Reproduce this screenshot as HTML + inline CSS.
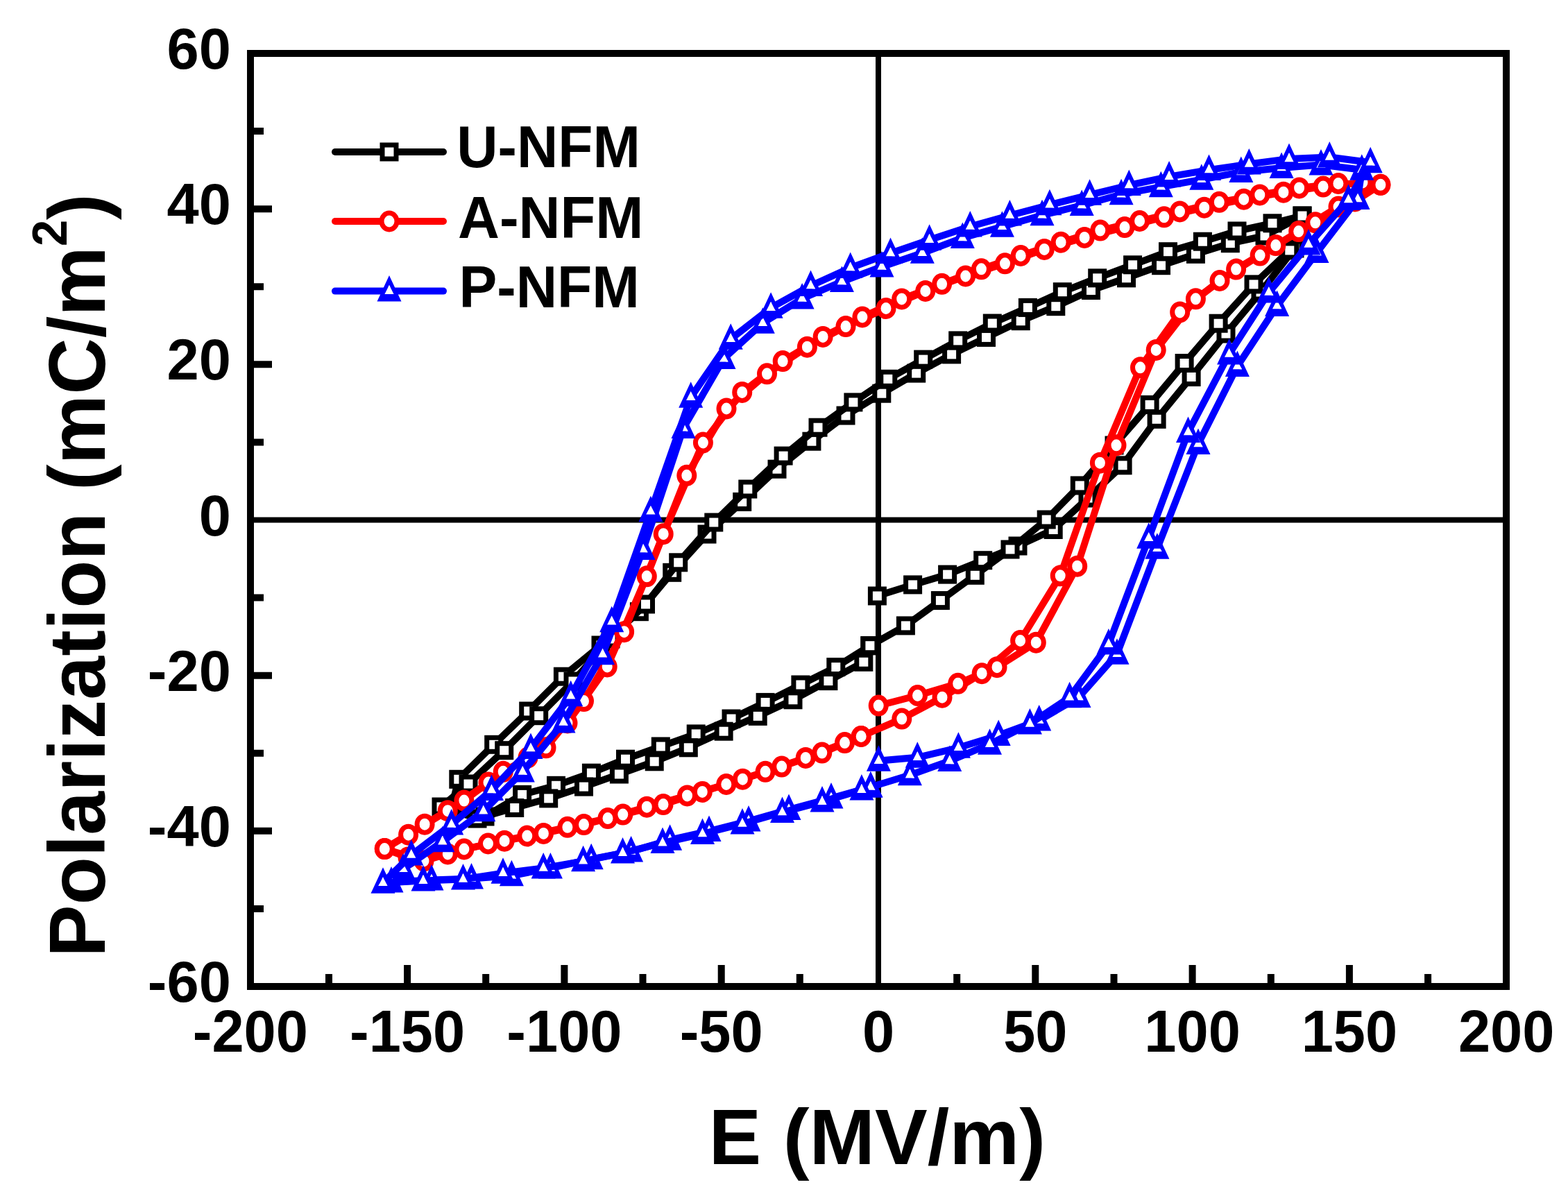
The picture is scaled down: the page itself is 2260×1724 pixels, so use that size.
<!DOCTYPE html>
<html><head><meta charset="utf-8"><title>P-E loops</title><style>
html,body{margin:0;padding:0;background:#fff;overflow:hidden;}
svg{display:block;}
text{font-family:"Liberation Sans",Arial,sans-serif;font-weight:bold;fill:#000;}
</style></head><body>
<svg xmlns="http://www.w3.org/2000/svg" width="2260" height="1724" viewBox="0 0 2260 1724">
<rect width="2260" height="1724" fill="#fff"/>
<defs>
<g id="msq"><rect x="-10" y="-10" width="20" height="20" fill="#fff" stroke="#000" stroke-width="7"/></g>
<g id="mci"><ellipse cx="0" cy="0" rx="11" ry="12" fill="#fff" stroke="#f00" stroke-width="7"/></g>
<g id="mtr"><path d="M0 -22.5 L17.5 15 L-17.5 15 Z M0 -8.6 L-6.6 4.3 L6.6 4.3 Z" fill="#00f" fill-rule="evenodd"/><path d="M0 -8.6 L6.6 4.3 L-6.6 4.3 Z" fill="#fff"/></g>
</defs>
<g stroke="#000" fill="none">
<line x1="361" y1="749.5" x2="2171" y2="749.5" stroke-width="8"/>
<line x1="1266" y1="77" x2="1266" y2="1422" stroke-width="8"/>
</g>
<path d="M1264.4 859 L1315.6 842.9 L1365.6 828.1 L1416.7 807.7 L1467 787 L1518.2 763.5 L1568 718 L1618.1 670.8 L1667.1 604.3 L1717.1 543.4 L1767 481 L1817 421 L1866 358 L1877 311 L1823 340 L1773.3 350.7 L1723.4 366.3 L1673.5 382.7 L1623.5 400.8 L1572.5 418.5 L1521.8 441.7 L1471.2 462.7 L1421.5 486.4 L1371.6 510.9 L1320.7 538.1 L1270.8 567.2 L1219 599 L1169.9 636.2 L1120 676.2 L1069.7 723.4 L1019 770 L968.7 825.3 L921.4 881.7 L866 930 L811.4 975.2 L761.7 1025 L711.7 1073.3 L660.8 1123.3 L650 1168 L699 1177 L752.6 1145.4 L801.5 1132.3 L852.4 1114.2 L901.5 1094.2 L952.3 1076 L1003.2 1057.9 L1054 1036 L1103.1 1012.4 L1153.9 987 L1204.8 961.6 L1253.9 930.7" fill="none" stroke="#000" stroke-width="10" stroke-linejoin="round" stroke-linecap="round"/>
<g><use href="#msq" x="1264.4" y="859"/><use href="#msq" x="1315.6" y="842.9"/><use href="#msq" x="1365.6" y="828.1"/><use href="#msq" x="1416.7" y="807.7"/><use href="#msq" x="1467" y="787"/><use href="#msq" x="1518.2" y="763.5"/><use href="#msq" x="1568" y="718"/><use href="#msq" x="1618.1" y="670.8"/><use href="#msq" x="1667.1" y="604.3"/><use href="#msq" x="1717.1" y="543.4"/><use href="#msq" x="1767" y="481"/><use href="#msq" x="1817" y="421"/><use href="#msq" x="1866" y="358"/><use href="#msq" x="1877" y="311"/><use href="#msq" x="1823" y="340"/><use href="#msq" x="1773.3" y="350.7"/><use href="#msq" x="1723.4" y="366.3"/><use href="#msq" x="1673.5" y="382.7"/><use href="#msq" x="1623.5" y="400.8"/><use href="#msq" x="1572.5" y="418.5"/><use href="#msq" x="1521.8" y="441.7"/><use href="#msq" x="1471.2" y="462.7"/><use href="#msq" x="1421.5" y="486.4"/><use href="#msq" x="1371.6" y="510.9"/><use href="#msq" x="1320.7" y="538.1"/><use href="#msq" x="1270.8" y="567.2"/><use href="#msq" x="1219" y="599"/><use href="#msq" x="1169.9" y="636.2"/><use href="#msq" x="1120" y="676.2"/><use href="#msq" x="1069.7" y="723.4"/><use href="#msq" x="1019" y="770"/><use href="#msq" x="968.7" y="825.3"/><use href="#msq" x="921.4" y="881.7"/><use href="#msq" x="866" y="930"/><use href="#msq" x="811.4" y="975.2"/><use href="#msq" x="761.7" y="1025"/><use href="#msq" x="711.7" y="1073.3"/><use href="#msq" x="660.8" y="1123.3"/><use href="#msq" x="650" y="1168"/><use href="#msq" x="699" y="1177"/><use href="#msq" x="752.6" y="1145.4"/><use href="#msq" x="801.5" y="1132.3"/><use href="#msq" x="852.4" y="1114.2"/><use href="#msq" x="901.5" y="1094.2"/><use href="#msq" x="952.3" y="1076"/><use href="#msq" x="1003.2" y="1057.9"/><use href="#msq" x="1054" y="1036"/><use href="#msq" x="1103.1" y="1012.4"/><use href="#msq" x="1153.9" y="987"/><use href="#msq" x="1204.8" y="961.6"/><use href="#msq" x="1253.9" y="930.7"/></g>
<path d="M1253.9 930.7 L1305.4 901.9 L1355.4 865.6 L1405.3 829.3 L1456 792 L1508.2 749 L1556.3 699.9 L1606 642 L1657.1 583.4 L1707.1 523.5 L1756.1 466.2 L1807 409.9 L1858.8 360.9 L1877 311 L1834 321.8 L1783 333 L1733.4 348.2 L1683.5 362.7 L1632.6 381.8 L1581.7 400.8 L1531.3 420.7 L1481.4 443.4 L1430.3 466 L1380.7 490.9 L1330.7 518.1 L1279.8 546.3 L1229.9 579.9 L1179 616.2 L1129.1 657.1 L1077.8 705 L1028.8 753 L977.7 810.8 L930.5 871 L880 921 L826 982 L776.7 1031.7 L726.7 1081.7 L675 1130 L636 1163 L688 1180 L741.7 1164.5 L790.7 1150.9 L841.5 1134.1 L892.4 1116 L943.2 1097.8 L992.3 1077.8 L1043.1 1054.2 L1092.2 1032.4 L1143 1008.8 L1193.9 981.6 L1244.8 954.3" fill="none" stroke="#000" stroke-width="10" stroke-linejoin="round" stroke-linecap="round"/>
<g><use href="#msq" x="1253.9" y="930.7"/><use href="#msq" x="1305.4" y="901.9"/><use href="#msq" x="1355.4" y="865.6"/><use href="#msq" x="1405.3" y="829.3"/><use href="#msq" x="1456" y="792"/><use href="#msq" x="1508.2" y="749"/><use href="#msq" x="1556.3" y="699.9"/><use href="#msq" x="1606" y="642"/><use href="#msq" x="1657.1" y="583.4"/><use href="#msq" x="1707.1" y="523.5"/><use href="#msq" x="1756.1" y="466.2"/><use href="#msq" x="1807" y="409.9"/><use href="#msq" x="1858.8" y="360.9"/><use href="#msq" x="1877" y="311"/><use href="#msq" x="1834" y="321.8"/><use href="#msq" x="1783" y="333"/><use href="#msq" x="1733.4" y="348.2"/><use href="#msq" x="1683.5" y="362.7"/><use href="#msq" x="1632.6" y="381.8"/><use href="#msq" x="1581.7" y="400.8"/><use href="#msq" x="1531.3" y="420.7"/><use href="#msq" x="1481.4" y="443.4"/><use href="#msq" x="1430.3" y="466"/><use href="#msq" x="1380.7" y="490.9"/><use href="#msq" x="1330.7" y="518.1"/><use href="#msq" x="1279.8" y="546.3"/><use href="#msq" x="1229.9" y="579.9"/><use href="#msq" x="1179" y="616.2"/><use href="#msq" x="1129.1" y="657.1"/><use href="#msq" x="1077.8" y="705"/><use href="#msq" x="1028.8" y="753"/><use href="#msq" x="977.7" y="810.8"/><use href="#msq" x="930.5" y="871"/><use href="#msq" x="880" y="921"/><use href="#msq" x="826" y="982"/><use href="#msq" x="776.7" y="1031.7"/><use href="#msq" x="726.7" y="1081.7"/><use href="#msq" x="675" y="1130"/><use href="#msq" x="636" y="1163"/><use href="#msq" x="688" y="1180"/><use href="#msq" x="741.7" y="1164.5"/><use href="#msq" x="790.7" y="1150.9"/><use href="#msq" x="841.5" y="1134.1"/><use href="#msq" x="892.4" y="1116"/><use href="#msq" x="943.2" y="1097.8"/><use href="#msq" x="992.3" y="1077.8"/><use href="#msq" x="1043.1" y="1054.2"/><use href="#msq" x="1092.2" y="1032.4"/><use href="#msq" x="1143" y="1008.8"/><use href="#msq" x="1193.9" y="981.6"/><use href="#msq" x="1244.8" y="954.3"/></g>
<path d="M1266.2 1017.1 L1322.5 1002.5 L1380.7 985.3 L1437 961.7 L1493.3 926.2 L1552.7 816.2 L1609 641.8 L1666.2 504.4 L1723.4 430.8 L1781.6 388.1 L1838.8 353.6 L1895.8 320.8 L1953 290 L1989.9 266.3 L1964 263 L1907.1 269.1 L1849.9 277.2 L1792.7 287.2 L1735.7 299.2 L1677.8 312.8 L1621 327.6 L1563.1 342.4 L1505.2 359.4 L1448.5 379.8 L1391.7 398 L1333.8 419.5 L1277 444.5 L1219 470.6 L1163.4 500.2 L1105.5 538.8 L1047 589 L989.8 685.3 L932.3 830.8 L875.2 961 L818 1042 L761 1092 L704 1128 L645.3 1168.7 L588.6 1203.2 L554.3 1223.6 L611 1241 L668.9 1224 L727.1 1212.2 L783.4 1201.4 L841.5 1188.6 L897.8 1174.1 L956 1159.6 L1012.3 1141.4 L1070.4 1123.2 L1126.7 1105.1 L1184.8 1085.1 L1241.2 1061.5" fill="none" stroke="#f00" stroke-width="10" stroke-linejoin="round" stroke-linecap="round"/>
<path d="M1241.2 1061.5 L1299.8 1036.1 L1358 1005.2 L1415.2 970.7 L1470.6 923.5 L1528.2 829.8 L1585.4 667.2 L1643.5 529.8 L1700.7 449.9 L1758 404.5 L1816.1 368.1 L1871.7 333.6 L1929 298 L1989.9 266.3 L1928.9 264.5 L1872.6 270.9 L1815.8 280.9 L1757.3 291.3 L1700.5 304.9 L1642.6 318.5 L1585.8 332.1 L1529.1 349.2 L1471.2 368.5 L1414.4 387.8 L1357.6 409.3 L1299.7 430.9 L1242.9 457 L1186.1 485.4 L1128.2 520.6 L1069.7 565.4 L1013.4 638 L956.2 769.7 L899.6 910.7 L841.5 1010.6 L787 1077.8 L725.2 1112.3 L668.9 1154.1 L612.1 1188.2 L554.3 1223.6 L588 1236 L645.3 1231 L703.5 1216 L759.8 1205 L817.9 1192.3 L876 1179.6 L932.3 1163.2 L990.5 1146.9 L1046.8 1130.5 L1103.1 1112.3 L1161.2 1092.4 L1217.5 1070.6" fill="none" stroke="#f00" stroke-width="10" stroke-linejoin="round" stroke-linecap="round"/>
<g><use href="#mci" x="1266.2" y="1017.1"/><use href="#mci" x="1322.5" y="1002.5"/><use href="#mci" x="1380.7" y="985.3"/><use href="#mci" x="1437" y="961.7"/><use href="#mci" x="1493.3" y="926.2"/><use href="#mci" x="1552.7" y="816.2"/><use href="#mci" x="1609" y="641.8"/><use href="#mci" x="1666.2" y="504.4"/><use href="#mci" x="1723.4" y="430.8"/><use href="#mci" x="1781.6" y="388.1"/><use href="#mci" x="1838.8" y="353.6"/><use href="#mci" x="1895.8" y="320.8"/><use href="#mci" x="1953" y="290"/><use href="#mci" x="1989.9" y="266.3"/><use href="#mci" x="1964" y="263"/><use href="#mci" x="1907.1" y="269.1"/><use href="#mci" x="1849.9" y="277.2"/><use href="#mci" x="1792.7" y="287.2"/><use href="#mci" x="1735.7" y="299.2"/><use href="#mci" x="1677.8" y="312.8"/><use href="#mci" x="1621" y="327.6"/><use href="#mci" x="1563.1" y="342.4"/><use href="#mci" x="1505.2" y="359.4"/><use href="#mci" x="1448.5" y="379.8"/><use href="#mci" x="1391.7" y="398"/><use href="#mci" x="1333.8" y="419.5"/><use href="#mci" x="1277" y="444.5"/><use href="#mci" x="1219" y="470.6"/><use href="#mci" x="1163.4" y="500.2"/><use href="#mci" x="1105.5" y="538.8"/><use href="#mci" x="1047" y="589"/><use href="#mci" x="989.8" y="685.3"/><use href="#mci" x="932.3" y="830.8"/><use href="#mci" x="875.2" y="961"/><use href="#mci" x="818" y="1042"/><use href="#mci" x="761" y="1092"/><use href="#mci" x="704" y="1128"/><use href="#mci" x="645.3" y="1168.7"/><use href="#mci" x="588.6" y="1203.2"/><use href="#mci" x="554.3" y="1223.6"/><use href="#mci" x="611" y="1241"/><use href="#mci" x="668.9" y="1224"/><use href="#mci" x="727.1" y="1212.2"/><use href="#mci" x="783.4" y="1201.4"/><use href="#mci" x="841.5" y="1188.6"/><use href="#mci" x="897.8" y="1174.1"/><use href="#mci" x="956" y="1159.6"/><use href="#mci" x="1012.3" y="1141.4"/><use href="#mci" x="1070.4" y="1123.2"/><use href="#mci" x="1126.7" y="1105.1"/><use href="#mci" x="1184.8" y="1085.1"/><use href="#mci" x="1241.2" y="1061.5"/></g>
<g><use href="#mci" x="1241.2" y="1061.5"/><use href="#mci" x="1299.8" y="1036.1"/><use href="#mci" x="1358" y="1005.2"/><use href="#mci" x="1415.2" y="970.7"/><use href="#mci" x="1470.6" y="923.5"/><use href="#mci" x="1528.2" y="829.8"/><use href="#mci" x="1585.4" y="667.2"/><use href="#mci" x="1643.5" y="529.8"/><use href="#mci" x="1700.7" y="449.9"/><use href="#mci" x="1758" y="404.5"/><use href="#mci" x="1816.1" y="368.1"/><use href="#mci" x="1871.7" y="333.6"/><use href="#mci" x="1929" y="298"/><use href="#mci" x="1989.9" y="266.3"/><use href="#mci" x="1928.9" y="264.5"/><use href="#mci" x="1872.6" y="270.9"/><use href="#mci" x="1815.8" y="280.9"/><use href="#mci" x="1757.3" y="291.3"/><use href="#mci" x="1700.5" y="304.9"/><use href="#mci" x="1642.6" y="318.5"/><use href="#mci" x="1585.8" y="332.1"/><use href="#mci" x="1529.1" y="349.2"/><use href="#mci" x="1471.2" y="368.5"/><use href="#mci" x="1414.4" y="387.8"/><use href="#mci" x="1357.6" y="409.3"/><use href="#mci" x="1299.7" y="430.9"/><use href="#mci" x="1242.9" y="457"/><use href="#mci" x="1186.1" y="485.4"/><use href="#mci" x="1128.2" y="520.6"/><use href="#mci" x="1069.7" y="565.4"/><use href="#mci" x="1013.4" y="638"/><use href="#mci" x="956.2" y="769.7"/><use href="#mci" x="899.6" y="910.7"/><use href="#mci" x="841.5" y="1010.6"/><use href="#mci" x="787" y="1077.8"/><use href="#mci" x="725.2" y="1112.3"/><use href="#mci" x="668.9" y="1154.1"/><use href="#mci" x="612.1" y="1188.2"/><use href="#mci" x="554.3" y="1223.6"/><use href="#mci" x="588" y="1236"/><use href="#mci" x="645.3" y="1231"/><use href="#mci" x="703.5" y="1216"/><use href="#mci" x="759.8" y="1205"/><use href="#mci" x="817.9" y="1192.3"/><use href="#mci" x="876" y="1179.6"/><use href="#mci" x="932.3" y="1163.2"/><use href="#mci" x="990.5" y="1146.9"/><use href="#mci" x="1046.8" y="1130.5"/><use href="#mci" x="1103.1" y="1112.3"/><use href="#mci" x="1161.2" y="1092.4"/><use href="#mci" x="1217.5" y="1070.6"/></g>
<path d="M1266.4 1096.7 L1322.3 1091.8 L1381.4 1077.8 L1439.2 1060 L1497.7 1038.4 L1555 1005 L1610 942.8 L1667.9 790.7 L1727 640 L1783.4 528 L1840.6 441 L1898 364 L1957 287 L1962.8 244.8 L1904 237.5 L1847.1 242 L1788.8 248 L1731.8 258.8 L1673.3 269.3 L1616.1 280.2 L1559.2 296 L1502 310.2 L1444.4 326.7 L1387.3 343 L1329.3 364.7 L1271 384.4 L1213.4 406 L1156.1 430.4 L1099.3 465.7 L1043 517.1 L985 617.1 L927 792 L868.6 943.2 L812 1041.4 L753.3 1112.5 L696.8 1169.3 L637.8 1213.2 L581 1252.8 L564 1271.5 L622 1268.5 L679.5 1266.5 L737.4 1262.3 L793.4 1251.4 L852.2 1238.3 L909.6 1227.4 L965.6 1210.7 L1022 1198 L1079 1183.5 L1137 1167 L1198 1150.5 L1254.9 1134.5" fill="none" stroke="#00f" stroke-width="10" stroke-linejoin="round" stroke-linecap="round"/>
<g><use href="#mtr" x="1266.4" y="1096.7"/><use href="#mtr" x="1322.3" y="1091.8"/><use href="#mtr" x="1381.4" y="1077.8"/><use href="#mtr" x="1439.2" y="1060"/><use href="#mtr" x="1497.7" y="1038.4"/><use href="#mtr" x="1555" y="1005"/><use href="#mtr" x="1610" y="942.8"/><use href="#mtr" x="1667.9" y="790.7"/><use href="#mtr" x="1727" y="640"/><use href="#mtr" x="1783.4" y="528"/><use href="#mtr" x="1840.6" y="441"/><use href="#mtr" x="1898" y="364"/><use href="#mtr" x="1957" y="287"/><use href="#mtr" x="1962.8" y="244.8"/><use href="#mtr" x="1904" y="237.5"/><use href="#mtr" x="1847.1" y="242"/><use href="#mtr" x="1788.8" y="248"/><use href="#mtr" x="1731.8" y="258.8"/><use href="#mtr" x="1673.3" y="269.3"/><use href="#mtr" x="1616.1" y="280.2"/><use href="#mtr" x="1559.2" y="296"/><use href="#mtr" x="1502" y="310.2"/><use href="#mtr" x="1444.4" y="326.7"/><use href="#mtr" x="1387.3" y="343"/><use href="#mtr" x="1329.3" y="364.7"/><use href="#mtr" x="1271" y="384.4"/><use href="#mtr" x="1213.4" y="406"/><use href="#mtr" x="1156.1" y="430.4"/><use href="#mtr" x="1099.3" y="465.7"/><use href="#mtr" x="1043" y="517.1"/><use href="#mtr" x="985" y="617.1"/><use href="#mtr" x="927" y="792"/><use href="#mtr" x="868.6" y="943.2"/><use href="#mtr" x="812" y="1041.4"/><use href="#mtr" x="753.3" y="1112.5"/><use href="#mtr" x="696.8" y="1169.3"/><use href="#mtr" x="637.8" y="1213.2"/><use href="#mtr" x="581" y="1252.8"/><use href="#mtr" x="564" y="1271.5"/><use href="#mtr" x="622" y="1268.5"/><use href="#mtr" x="679.5" y="1266.5"/><use href="#mtr" x="737.4" y="1262.3"/><use href="#mtr" x="793.4" y="1251.4"/><use href="#mtr" x="852.2" y="1238.3"/><use href="#mtr" x="909.6" y="1227.4"/><use href="#mtr" x="965.6" y="1210.7"/><use href="#mtr" x="1022" y="1198"/><use href="#mtr" x="1079" y="1183.5"/><use href="#mtr" x="1137" y="1167"/><use href="#mtr" x="1198" y="1150.5"/><use href="#mtr" x="1254.9" y="1134.5"/></g>
<path d="M1254.9 1134.5 L1311.4 1117.2 L1368.7 1096.9 L1426.5 1072.7 L1484.4 1043.4 L1541.6 1005.3 L1597.9 928.6 L1655.7 775.7 L1712.5 623 L1771.6 510.5 L1828.8 421.5 L1886 352.5 L1943.5 288 L1975.2 234.3 L1916.3 226.5 L1858 228.9 L1800.3 236.5 L1742.5 245 L1685.1 254.6 L1627.3 267 L1570.6 280.8 L1512.9 295.3 L1455.4 310.5 L1398.3 326.5 L1339.6 345.7 L1283.5 365 L1225.7 386 L1168.5 412 L1111.1 443.7 L1053.2 488.8 L995.7 572.7 L937.9 737.3 L881.7 896.2 L822.7 1003.3 L765 1079 L708.5 1139 L650.7 1188.5 L592.8 1232.5 L552 1272.8 L610 1269.6 L667.5 1267.5 L725 1258.7 L783.2 1251.4 L840.6 1241.3 L897.5 1229.6 L955 1215.1 L1012.5 1202 L1070 1187.5 L1127.5 1171 L1185 1155.6 L1241.9 1138.6" fill="none" stroke="#00f" stroke-width="10" stroke-linejoin="round" stroke-linecap="round"/>
<g><use href="#mtr" x="1254.9" y="1134.5"/><use href="#mtr" x="1311.4" y="1117.2"/><use href="#mtr" x="1368.7" y="1096.9"/><use href="#mtr" x="1426.5" y="1072.7"/><use href="#mtr" x="1484.4" y="1043.4"/><use href="#mtr" x="1541.6" y="1005.3"/><use href="#mtr" x="1597.9" y="928.6"/><use href="#mtr" x="1655.7" y="775.7"/><use href="#mtr" x="1712.5" y="623"/><use href="#mtr" x="1771.6" y="510.5"/><use href="#mtr" x="1828.8" y="421.5"/><use href="#mtr" x="1886" y="352.5"/><use href="#mtr" x="1943.5" y="288"/><use href="#mtr" x="1975.2" y="234.3"/><use href="#mtr" x="1916.3" y="226.5"/><use href="#mtr" x="1858" y="228.9"/><use href="#mtr" x="1800.3" y="236.5"/><use href="#mtr" x="1742.5" y="245"/><use href="#mtr" x="1685.1" y="254.6"/><use href="#mtr" x="1627.3" y="267"/><use href="#mtr" x="1570.6" y="280.8"/><use href="#mtr" x="1512.9" y="295.3"/><use href="#mtr" x="1455.4" y="310.5"/><use href="#mtr" x="1398.3" y="326.5"/><use href="#mtr" x="1339.6" y="345.7"/><use href="#mtr" x="1283.5" y="365"/><use href="#mtr" x="1225.7" y="386"/><use href="#mtr" x="1168.5" y="412"/><use href="#mtr" x="1111.1" y="443.7"/><use href="#mtr" x="1053.2" y="488.8"/><use href="#mtr" x="995.7" y="572.7"/><use href="#mtr" x="937.9" y="737.3"/><use href="#mtr" x="881.7" y="896.2"/><use href="#mtr" x="822.7" y="1003.3"/><use href="#mtr" x="765" y="1079"/><use href="#mtr" x="708.5" y="1139"/><use href="#mtr" x="650.7" y="1188.5"/><use href="#mtr" x="592.8" y="1232.5"/><use href="#mtr" x="552" y="1272.8"/><use href="#mtr" x="610" y="1269.6"/><use href="#mtr" x="667.5" y="1267.5"/><use href="#mtr" x="725" y="1258.7"/><use href="#mtr" x="783.2" y="1251.4"/><use href="#mtr" x="840.6" y="1241.3"/><use href="#mtr" x="897.5" y="1229.6"/><use href="#mtr" x="955" y="1215.1"/><use href="#mtr" x="1012.5" y="1202"/><use href="#mtr" x="1070" y="1187.5"/><use href="#mtr" x="1127.5" y="1171"/><use href="#mtr" x="1185" y="1155.6"/><use href="#mtr" x="1241.9" y="1138.6"/></g>
<g stroke="#000" fill="none" stroke-width="10">
<rect x="361" y="77" width="1810" height="1345" stroke-linejoin="miter"/>
<path d="M361 189.1 H380 M361 301.2 H392 M361 413.3 H380 M361 525.3 H392 M361 637.4 H380 M361 861.6 H380 M361 973.7 H392 M361 1085.7 H380 M361 1197.8 H392 M361 1309.9 H380 M474 1422 V1404 M587.1 1422 V1391 M700.2 1422 V1404 M813.4 1422 V1391 M926.5 1422 V1404 M1039.7 1422 V1391 M1152.8 1422 V1404 M1379.2 1422 V1404 M1492.3 1422 V1391 M1605.5 1422 V1404 M1718.6 1422 V1391 M1831.8 1422 V1404 M1944.9 1422 V1391 M2058.1 1422 V1404"/>
</g>
<g font-size="83">
<text x="332.8" y="99" text-anchor="end">60</text>
<text x="332.8" y="323.2" text-anchor="end">40</text>
<text x="332.8" y="547.3" text-anchor="end">20</text>
<text x="332.8" y="771.5" text-anchor="end">0</text>
<text x="332.8" y="995.7" text-anchor="end">-20</text>
<text x="332.8" y="1219.8" text-anchor="end">-40</text>
<text x="332.8" y="1444" text-anchor="end">-60</text>
<text transform="translate(360.8 1515.5) scale(1 1.035)" text-anchor="middle">-200</text>
<text transform="translate(587.1 1515.5) scale(1 1.035)" text-anchor="middle">-150</text>
<text transform="translate(813.4 1515.5) scale(1 1.035)" text-anchor="middle">-100</text>
<text transform="translate(1039.7 1515.5) scale(1 1.035)" text-anchor="middle">-50</text>
<text transform="translate(1266 1515.5) scale(1 1.035)" text-anchor="middle">0</text>
<text transform="translate(1492.3 1515.5) scale(1 1.035)" text-anchor="middle">50</text>
<text transform="translate(1718.6 1515.5) scale(1 1.035)" text-anchor="middle">100</text>
<text transform="translate(1944.9 1515.5) scale(1 1.035)" text-anchor="middle">150</text>
<text transform="translate(2171.2 1515.5) scale(1 1.035)" text-anchor="middle">200</text>
</g>
<text x="1021.5" y="1677.8" font-size="113.5">E (MV/m)</text>
<text transform="translate(151.2 1379.8) rotate(-90) scale(0.9797 1)" font-size="115.5">Polarization (mC/m<tspan dy="-55" font-size="70">2</tspan><tspan dy="55">)</tspan></text>
<line x1="483" y1="219" x2="639" y2="219" stroke="#000" stroke-width="10" stroke-linecap="round"/>
<use href="#msq" x="561" y="219"/>
<text transform="translate(658.3 241.2) scale(1.027 1.0545)" font-size="80">U-NFM</text>
<line x1="483" y1="319" x2="639" y2="319" stroke="#f00" stroke-width="10" stroke-linecap="round"/>
<use href="#mci" x="561" y="319"/>
<text transform="translate(660.0 342.5) scale(1.038 1.0545)" font-size="80">A-NFM</text>
<line x1="483" y1="419.6" x2="639" y2="419.6" stroke="#00f" stroke-width="10" stroke-linecap="round"/>
<use href="#mtr" x="561" y="419.6"/>
<text transform="translate(661.4 443.1) scale(1.028 1.0545)" font-size="80">P-NFM</text>
</svg>
</body></html>
